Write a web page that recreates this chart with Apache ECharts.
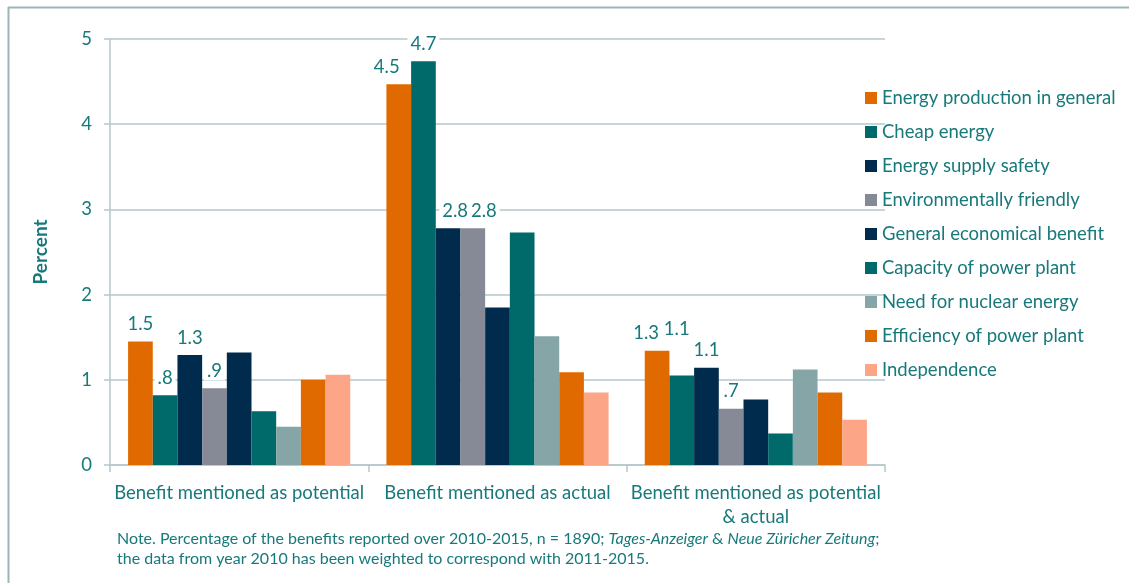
<!DOCTYPE html>
<html>
<head>
<meta charset="utf-8">
<script src="https://cdn.jsdelivr.net/npm/echarts@6/dist/echarts.min.js"></script>
<style>html,body{margin:0;padding:0;background:#fff}#c{width:1129px;height:583px}</style>
</head>
<body>
<div id="c"></div>
<script>
const categories = ['Benefit mentioned as potential', 'Benefit mentioned as actual', 'Benefit mentioned as potential\n& actual'];
const seriesNames = ['Energy production in general', 'Cheap energy', 'Energy supply safety', 'Environmentally friendly', 'General economical benefit', 'Capacity of power plant', 'Need for nuclear energy', 'Efficiency of power plant', 'Independence'];
const energyProduction = [1.45, 4.47, 1.34];
const cheapEnergy = [0.82, 4.74, 1.05];
const supplySafety = [1.29, 2.78, 1.14];
const environmental = [0.90, 2.78, 0.66];
const economical = [1.32, 1.85, 0.77];
const capacity = [0.63, 2.73, 0.37];
const nuclearNeed = [0.45, 1.51, 1.12];
const efficiency = [1.00, 1.09, 0.85];
const independence = [1.06, 0.85, 0.53];
const yTicks = [0, 1, 2, 3, 4, 5];
const labelledSeries = [0, 1, 2, 3];
const note1 = 'Note. Percentage of the benefits reported over 2010-2015, n = 1890; ';
const note2a = 'Tages-Anzeiger';
const note2b = ' & ';
const note2c = 'Neue Züricher Zeitung';
const note3 = ';';
const noteLine2 = 'the data from year 2010 has been weighted to correspond with 2011-2015.';

const allValues = [energyProduction, cheapEnergy, supplySafety, environmental, economical, capacity, nuclearNeed, efficiency, independence];
const colors = ['#E06A00', '#006A6A', '#002B4C', '#868A96', '#002B4C', '#006A6A', '#86A5A6', '#E06A00', '#FCA587'];
const teal = '#18797B';
const gridColor = '#B5C7CB';
const FONT = 'Lato';
const FS = 18.5;

// label nudges (series index -> category index -> [dx, dy]) as placed in the original
const labelNudge = {
  0: { 1: [-12, 0], 2: [-11, 0] },
  1: { 2: [-5, -29] },
  2: { 1: [7, 0] },
  3: { 1: [11, 0] }
};

const series = allValues.map((vals, i) => ({
  name: seriesNames[i],
  type: 'bar',
  barGap: '0%',
  barCategoryGap: '14%',
  itemStyle: { color: colors[i] },
  data: vals.map((v, j) => {
    const item = { value: v };
    if (labelNudge[i] && labelNudge[i][j]) item.label = { offset: labelNudge[i][j] };
    return item;
  }),
  label: {
    show: labelledSeries.includes(i),
    position: 'top',
    distance: 8,
    color: teal,
    fontFamily: FONT,
    fontSize: FS,
    backgroundColor: '#fff',
    padding: [0, 3],
    formatter: p => {
      const r = Math.round(p.value * 10) / 10;
      return r.toFixed(1).replace(/^0/, '');
    }
  }
}));

const chart = echarts.init(document.getElementById('c'), null, { renderer: 'canvas' });
chart.setOption({
  animation: false,
  backgroundColor: '#fff',
  color: colors,
  grid: { left: 110, right: 244, top: 39, bottom: 118, containLabel: false },
  legend: {
    orient: 'vertical',
    left: 860,
    top: 82,
    itemWidth: 12,
    itemHeight: 12,
    itemGap: 12,
    icon: 'rect',
    textStyle: { color: teal, fontFamily: FONT, fontSize: FS, lineHeight: 22, padding: [0, 0, 0, 0] },
    data: seriesNames
  },
  xAxis: {
    type: 'category',
    data: categories,
    axisLine: { lineStyle: { color: gridColor, width: 1.5 } },
    axisTick: { show: true, interval: 0, alignWithLabel: false, length: 7, lineStyle: { color: gridColor, width: 1.5 } },
    axisLabel: { color: teal, fontFamily: FONT, fontSize: FS, margin: 16, lineHeight: 24, interval: 0 }
  },
  yAxis: {
    type: 'value',
    min: yTicks[0],
    max: yTicks[yTicks.length - 1],
    interval: 1,
    name: 'Percent',
    nameLocation: 'middle',
    nameGap: 60,
    nameTextStyle: { color: teal, fontFamily: FONT, fontSize: 19, fontWeight: 'bold' },
    axisLine: { show: true, lineStyle: { color: gridColor, width: 1.5 } },
    axisTick: { show: true, length: 6, lineStyle: { color: gridColor, width: 1.5 } },
    axisLabel: { color: teal, fontFamily: FONT, fontSize: FS, margin: 18 },
    splitLine: { lineStyle: { color: gridColor, width: 1.5 } }
  },
  graphic: [
    { type: 'line', shape: { x1: 8.5, y1: 7, x2: 8.5, y2: 583 }, style: { stroke: '#9DB4B8', lineWidth: 2 } },
    { type: 'line', shape: { x1: 8, y1: 7.5, x2: 1129, y2: 7.5 }, style: { stroke: '#9DB4B8', lineWidth: 2 } },
    {
      type: 'text', left: 117, top: 531,
      style: {
        text: '{n|' + note1 + '}{i|' + note2a + '}{n|' + note2b + '}{i|' + note2c + '}{n|' + note3 + '}\n{n|' + noteLine2 + '}',
        rich: {
          n: { fill: teal, fontFamily: FONT, fontSize: 16, lineHeight: 20 },
          i: { fill: teal, fontFamily: FONT, fontSize: 16, fontStyle: 'italic', lineHeight: 20 }
        }
      }
    }
  ],
  series: series
});
</script>
</body>
</html>
